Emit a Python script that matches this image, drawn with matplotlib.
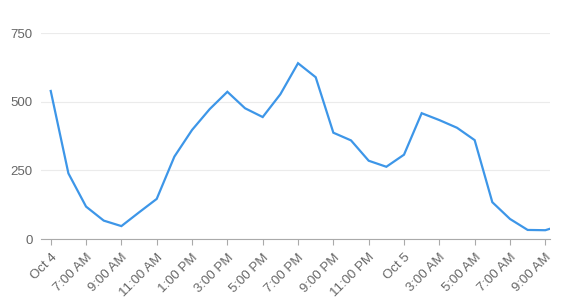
#Import required libraries
import matplotlib
matplotlib.use("Agg")
import matplotlib.pyplot as plt

#Hourly values, Oct 4 5:00 AM through Oct 5 10:00 AM
hours = list(range(30))
values = [539, 239, 118, 67, 47, 97, 146, 300, 397, 473, 536, 476, 444, 527,
          640, 589, 387, 359, 285, 263, 307, 458, 433, 405, 360, 134, 73, 33, 32, 52]

#Tick labels every two hours
tick_pos = [0, 2, 4, 6, 8, 10, 12, 14, 16, 18, 20, 22, 24, 26, 28]
tick_labels = ["Oct 4", "7:00 AM", "9:00 AM", "11:00 AM", "1:00 PM", "3:00 PM",
               "5:00 PM", "7:00 PM", "9:00 PM", "11:00 PM", "Oct 5", "3:00 AM",
               "5:00 AM", "7:00 AM", "9:00 AM"]
y_ticks = [0, 250, 500, 750]

plt.rcParams['font.family'] = ['Liberation Sans', 'DejaVu Sans']

fig = plt.figure(figsize=(5.65, 3.0), dpi=100)
ax = fig.add_axes([0.0726, 0.2033, 0.901, 0.6867])

ax.plot(hours, values, color='#3d96e8', linewidth=1.6, solid_joinstyle='miter')

ax.set_xlim(-0.55, 28.27)
ax.set_ylim(0, 750)

ax.set_yticks(y_ticks)
ax.set_xticks(tick_pos)
ax.set_xticklabels(tick_labels, rotation=45, ha='right', rotation_mode='anchor')
ax.tick_params(axis='y', length=0, pad=6, labelsize=9.5, labelcolor='#666666')
ax.tick_params(axis='x', length=4, width=0.8, color='#aaaaaa', pad=5,
               labelsize=9.5, labelcolor='#666666')

ax.grid(axis='y', color='#ebebeb', linewidth=0.8)
ax.set_axisbelow(True)
for side in ['top', 'right', 'left']:
    ax.spines[side].set_visible(False)
ax.spines['bottom'].set_color('#aaaaaa')
ax.spines['bottom'].set_linewidth(0.8)

fig.savefig('out.png', dpi=100)
